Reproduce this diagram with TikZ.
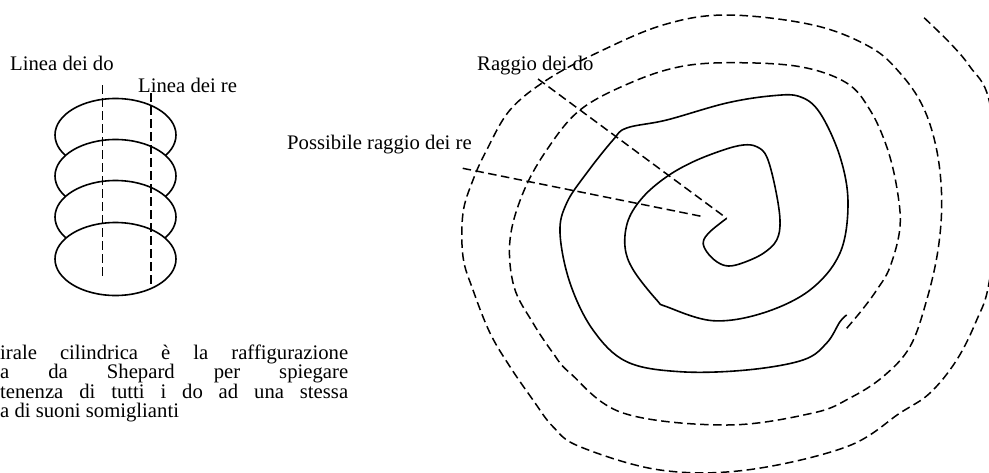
\documentclass[tikz,border=0pt]{standalone}
\usepackage{fontspec}
\setmainfont{Liberation Serif}
\begin{document}
\begin{tikzpicture}[x=1pt,y=-1pt,line join=round,
	testo/.style={font=\fontsize{20.7}{19.5}\selectfont,inner sep=0pt,anchor=base west},
	tratteggio/.style={line width=1.5pt,dash pattern=on 8.5pt off 4.5pt},
	pieno/.style={line width=1.6pt}]
	\useasboundingbox (0,0) rectangle (989,472);
	\clip (0,0) rectangle (989,472);
	% cilindro di Shepard
	\foreach \cy in {135,176,217,259}
		\draw[pieno,fill=white] (115.5,\cy) ellipse [x radius=60.5,y radius=36.5];
	\node[testo] (lineaDo) at (10,70) {Linea dei do};
	\node[testo] (lineaRe) at (138,92.5) {Linea dei re};
	\coordinate (do1) at (102.7,85); \coordinate (do2) at (102.7,278);
	\coordinate (re1) at (151,93); \coordinate (re2) at (151,286.7);
	\draw[tratteggio] (do1)--(do2);
	\draw[tratteggio] (re1)--(re2);
	% didascalia
	\node[testo] (riga1) at (0,359) {\makebox[348pt][s]{irale cilindrica è la raffigurazione}};
	\node[testo] (riga2) at (0,378.5) {\makebox[348pt][s]{a da Shepard per spiegare}};
	\node[testo] (riga3) at (0,398) {\makebox[348pt][s]{tenenza di tutti i do ad una stessa}};
	\node[testo] (riga4) at (0,417.5) {a di suoni somiglianti};
	% spirale
	\coordinate (centro) at (726.7,218.3);
	\draw[pieno] plot[smooth,tension=0.6] coordinates {(centro) (710,231.7) (703.3,241.7) (706.7,251.7)
		(716.7,261.7) (728.3,266) (743.3,262.7) (763.3,253.3) (776.7,240) (780,220) (775,186.7)
		(766.7,156.7) (756.7,146.7) (743.3,145) (723.3,150) (693.3,161.7) (666.7,176.7) (643.3,196.7)
		(628.3,220) (625,246.7) (633.3,270) (656.7,300) (666.7,306.7) (713,320.7) (763,313) (810,290)
		(840,253) (848,203) (840,156.7) (820,113) (800,96.7) (773,95.7) (726.7,103) (666.7,120)
		(626.7,128) (613,140) (586.7,173) (566.7,203) (560,233) (570,283) (593,330) (626.7,361.7)
		(680,371.7) (746.7,370) (803,360) (826.7,343) (840,321.7) (846.7,315)};
	\draw[tratteggio] plot[smooth,tension=0.6] coordinates {(846.7,328.3) (862,310) (876.7,290)
		(890,267) (900,227) (896.7,187) (886.7,146.7) (870,110) (846.7,83) (800,66.7) (733,62.7)
		(680,66.7) (630,83) (580,110) (546.7,150) (523,193) (510,240) (514,286.7) (533,323) (553,353)
		(570,373) (623,413) (726.7,425) (813,413) (850,398) (883,376.7) (910,346.7) (926.7,300)
		(938,250) (941.7,200) (936.7,150) (923,106.7) (900,73) (870,47) (813,25) (726.7,15) (663,25)
		(596.7,53) (546.7,80) (510,110) (486.7,150) (473,180) (463,213) (463,256.7) (473,290)
		(490,333) (510,366.7) (533,400) (553,426.7) (580,446.7) (660,470) (746.7,470) (846.7,446.7)
		(900,413) (930,393) (956.7,360) (976.7,320) (989,283) (1000,190) (989,100) (970,66.7)
		(950,43) (923,16.7)};
	% raggi
	\node[testo] (raggioDo) at (477,70.5) {Raggio dei do};
	\node[testo] (raggioRe) at (287,149) {Possibile raggio dei re};
	\coordinate (inizioDo) at (538,79);
	\coordinate (inizioRe) at (462.7,168.3);
	\coordinate (fineRe) at (703.3,216.7);
	\draw[tratteggio] (inizioDo)--(centro);
	\draw[tratteggio] (inizioRe)--(fineRe);
\end{tikzpicture}
\end{document}
